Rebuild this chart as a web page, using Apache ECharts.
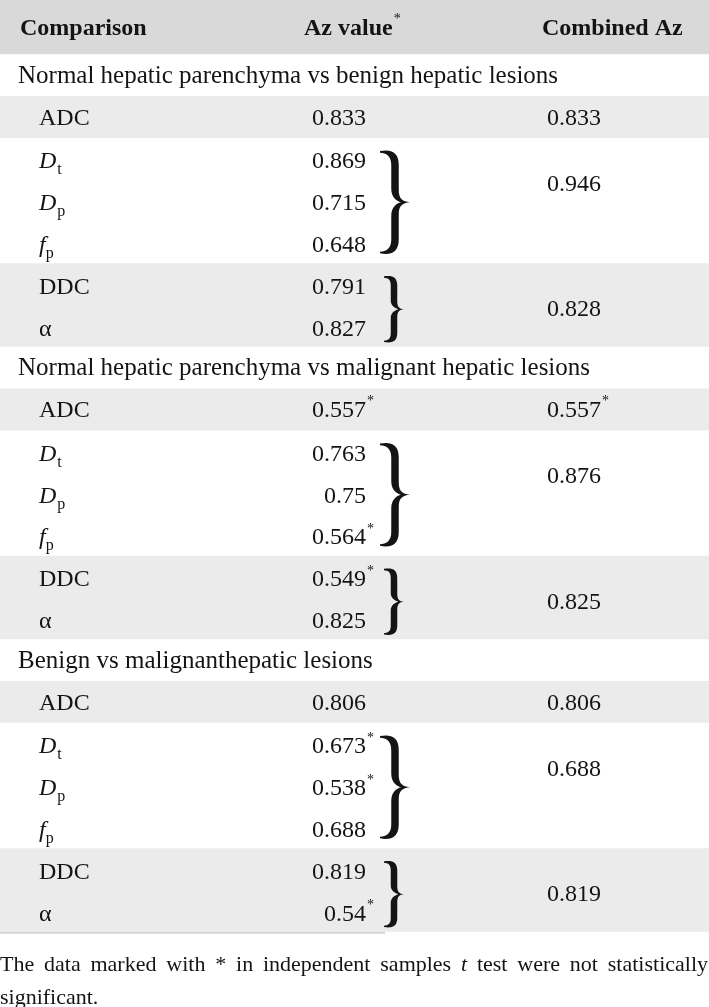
<!DOCTYPE html>
<html><head><meta charset="utf-8">
<script src="https://cdn.jsdelivr.net/npm/echarts@6/dist/echarts.min.js"></script>
<style>html,body{margin:0;padding:0;background:#fff}#c{width:709px;height:1007px}</style>
</head><body><div id="c"></div>
<script>
// ---------- data ----------
const headers = ['Comparison', 'Az value', 'Combined Az'];
const headerSig = [0, 1, 0];
const sections = [
  'Normal hepatic parenchyma vs benign hepatic lesions',
  'Normal hepatic parenchyma vs malignant hepatic lesions',
  'Benign vs malignanthepatic lesions'
];
const paramMain = ['ADC', 'D', 'D', 'f', 'DDC', 'α'];
const paramSub = ['', 't', 'p', 'p', '', ''];
const paramItalic = [false, true, true, true, false, false];
const groups = [[0], [1, 2, 3], [4, 5]];
const azValues = [
  ['0.833', '0.869', '0.715', '0.648', '0.791', '0.827'],
  ['0.557', '0.763', '0.75', '0.564', '0.549', '0.825'],
  ['0.806', '0.673', '0.538', '0.688', '0.819', '0.54']
];
const azSig = [
  [0, 0, 0, 0, 0, 0],
  [1, 0, 0, 1, 1, 0],
  [0, 1, 1, 0, 0, 1]
];
const combinedAz = [
  ['0.833', '0.946', '0.828'],
  ['0.557', '0.876', '0.825'],
  ['0.806', '0.688', '0.819']
];
const combinedSig = [
  [0, 0, 0],
  [1, 0, 0],
  [0, 0, 0]
];
const footLine1 = ['The', 'data', 'marked', 'with', '*', 'in', 'independent', 'samples', 't', 'test', 'were', 'not', 'statistically'];
const footItalic = ['t'];
const footLine2 = 'significant.';

// ---------- style / layout ----------
const FONT = "'Liberation Serif', 'Times New Roman', serif";
const INK = '#141414';
const GRAY = '#ebebeb', HEAD = '#d9d9d9';
const W = 709;
const X = { title: 18, label: 39, valRight: 366, comb: 574, head: [20, 304, 542] };
const FS = 24, TITLEFS = 25, SUBFS = 16, SUPFS = 14, FOOTFS = 22;

const ctx = document.createElement('canvas').getContext('2d');
function measure(text, font) { ctx.font = font; return ctx.measureText(text).width; }
function fontStr(size, bold, italic) { return (italic ? 'italic ' : '') + (bold ? 'bold ' : '') + size + 'px ' + FONT; }

// ---------- build cells ----------
const cells = [];
cells.push({ k: 'band', y0: -1.3, y1: 0, fill: HEAD });
headers.forEach((h, i) => cells.push({ k: 'text', text: h, x: X.head[i], y: -0.62, bold: true, align: 'left', sup: headerSig[i] }));
let L = 0;
sections.forEach((title, s) => {
  cells.push({ k: 'text', text: title, x: X.title, y: L + 0.52, align: 'left', size: TITLEFS });
  L += 1;
  groups.forEach((g, gi) => {
    const n = g.length;
    if (gi % 2 === 0) cells.push({ k: 'band', y0: L, y1: L + n, fill: GRAY });
    g.forEach((p, j) => {
      const y = L + j + (n > 1 ? 0.58 : 0.53);
      cells.push({ k: 'param', p: p, x: X.label, y: y });
      cells.push({ k: 'text', text: azValues[s][p], x: X.valRight, y: y, align: 'right', sup: azSig[s][p] });
    });
    if (n > 1) cells.push({ k: 'brace', y0: L + 0.3, y1: L + n - (n === 3 ? 0.22 : 0.1), n: n });
    const cy = n === 1 ? L + 0.53 : L + 1.12;
    cells.push({ k: 'text', text: combinedAz[s][gi], x: X.comb, y: cy, align: 'center', sup: combinedSig[s][gi] });
    L += n;
  });
});
cells.push({ k: 'rule', y: L });
cells.push({ k: 'foot', y1: L + 0.8, y2: L + 1.6 });

function bracePath(x, y, w, h, t) {
  const s = x + w * 0.5, sL = s - t / 2, sR = s + t / 2, R = x + w, m = y + h / 2;
  const tip = Math.max(1.6, t * 0.3);
  const f = v => v.toFixed(2);
  return [
    'M', f(x), f(y + tip * 0.3),
    'C', f(x + (sR - x) * 0.55), f(y - 0.012 * h), f(sR), f(y + 0.01 * h), f(sR), f(y + 0.14 * h),
    'L', f(sR), f(m - 0.12 * h),
    'C', f(sR), f(m - 0.035 * h), f(sR + (R - sR) * 0.3), f(m - 0.006 * h), f(R), f(m),
    'C', f(sR + (R - sR) * 0.3), f(m + 0.006 * h), f(sR), f(m + 0.035 * h), f(sR), f(m + 0.12 * h),
    'L', f(sR), f(y + 0.86 * h),
    'C', f(sR), f(y + 0.99 * h), f(x + (sR - x) * 0.55), f(y + 1.012 * h), f(x), f(y + h - tip * 0.3),
    'L', f(x), f(y + h - tip),
    'C', f(x + (sL - x) * 0.55), f(y + h - tip - 0.004 * h), f(sL), f(y + 0.95 * h), f(sL), f(y + 0.86 * h),
    'L', f(sL), f(m + 0.13 * h),
    'C', f(sL), f(m + 0.05 * h), f(sL + t * 0.7), f(m + 0.01 * h), f(sR + (R - sR) * 0.2), f(m),
    'C', f(sL + t * 0.7), f(m - 0.01 * h), f(sL), f(m - 0.05 * h), f(sL), f(m - 0.13 * h),
    'L', f(sL), f(y + 0.14 * h),
    'C', f(sL), f(y + 0.05 * h), f(x + (sL - x) * 0.55), f(y + tip + 0.004 * h), f(x), f(y + tip),
    'Z'
  ].join(' ');
}

function txt(x, y, text, font, align) {
  return { type: 'text', x: x, y: y, style: { text: text, font: font, fill: INK, align: align || 'left', verticalAlign: 'middle' } };
}

function renderItem(params, api) {
  const c = cells[params.dataIndex];
  const P = (x, y) => api.coord([x, y]);
  if (c.k === 'band') {
    const a = P(0, c.y0), b = P(W, c.y1);
    return { type: 'rect', shape: { x: a[0], y: a[1], width: b[0] - a[0], height: b[1] - a[1] }, style: { fill: c.fill } };
  }
  if (c.k === 'rule') {
    const a = P(0, c.y), b = P(385, c.y);
    return { type: 'line', shape: { x1: a[0], y1: a[1] + 1, x2: b[0], y2: b[1] + 1 }, style: { stroke: '#d4d4d4', lineWidth: 2 } };
  }
  if (c.k === 'text') {
    const pt = P(c.x, c.y);
    const font = fontStr(c.size || FS, c.bold, false);
    const children = [txt(pt[0], pt[1], c.text, font, c.align)];
    if (c.sup) {
      const w = measure(c.text, font);
      let sx = pt[0];
      if (c.align === 'right') sx = pt[0] + 1;
      else if (c.align === 'center') sx = pt[0] + w / 2 + 1;
      else sx = pt[0] + w + 1;
      children.push(txt(sx, pt[1] - 9, '*', fontStr(SUPFS, false, false), 'left'));
    }
    return { type: 'group', children: children };
  }
  if (c.k === 'param') {
    const pt = P(c.x, c.y);
    const font = fontStr(FS, false, paramItalic[c.p]);
    const children = [txt(pt[0], pt[1], paramMain[c.p], font, 'left')];
    if (paramSub[c.p]) {
      const w = measure(paramMain[c.p], font);
      const adj = paramMain[c.p] === 'f' ? 0 : 1;
      children.push(txt(pt[0] + w + adj, pt[1] + 8, paramSub[c.p], fontStr(SUBFS, false, false), 'left'));
    }
    return { type: 'group', children: children };
  }
  if (c.k === 'brace') {
    const a = P(0, c.y0), b = P(0, c.y1);
    const h = b[1] - a[1];
    const big = c.n === 3;
    const x0 = P(big ? 380 : 384, 0)[0];
    const w = big ? 30 : 20;
    return { type: 'path', shape: { pathData: bracePath(x0, a[1], w, h, big ? 7.5 : 6.5) }, style: { fill: INK } };
  }
  if (c.k === 'foot') {
    const p1 = P(0, c.y1), p2 = P(0, c.y2), right = P(W, 0)[0] - 1;
    const fonts = footLine1.map(wd => fontStr(FOOTFS, false, footItalic.indexOf(wd) >= 0));
    const widths = footLine1.map((wd, i) => measure(wd, fonts[i]));
    const total = widths.reduce((a, b) => a + b, 0);
    const gap = (right - p1[0] - total) / (footLine1.length - 1);
    const children = [];
    let x = p1[0];
    footLine1.forEach((wd, i) => { children.push(txt(x, p1[1], wd, fonts[i], 'left')); x += widths[i] + gap; });
    children.push(txt(p2[0], p2[1], footLine2, fontStr(FOOTFS, false, false), 'left'));
    return { type: 'group', children: children };
  }
  return null;
}

const chart = echarts.init(document.getElementById('c'), null, { renderer: 'canvas' });
chart.setOption({
  animation: false,
  backgroundColor: '#ffffff',
  grid: { left: 0, right: 0, top: 0, bottom: 0 },
  xAxis: { type: 'value', min: 0, max: W, show: false },
  yAxis: { type: 'value', min: -1.3, max: 22.8, inverse: true, show: false },
  series: [{
    type: 'custom',
    renderItem: renderItem,
    data: cells.map(() => [0, 0]),
    encode: { x: 0, y: 1 },
    silent: true
  }]
});
</script>
</body></html>
